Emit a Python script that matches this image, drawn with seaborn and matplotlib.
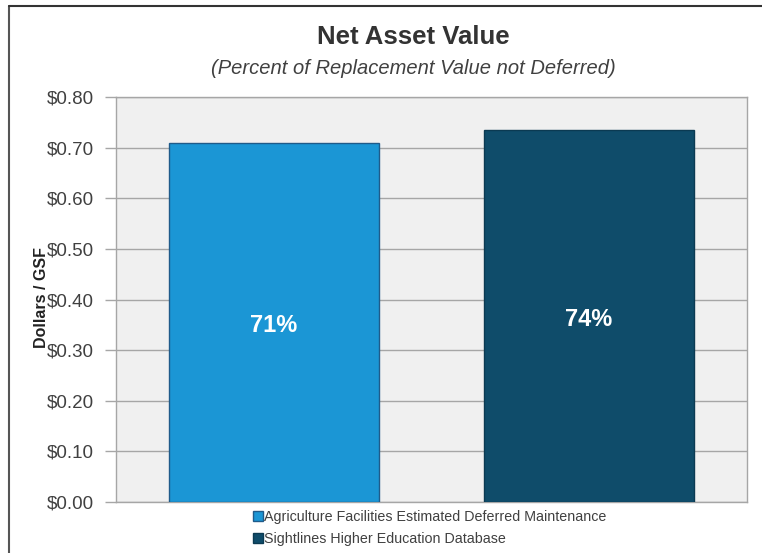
import matplotlib
matplotlib.use("Agg")
import matplotlib.pyplot as plt
import seaborn as sns
import pandas as pd
from matplotlib.lines import Line2D

# data
sources = ["Agriculture Facilities Estimated Deferred Maintenance",
           "Sightlines Higher Education Database"]
values = [0.71, 0.735]
pct_labels = ["71%", "74%"]
label_pos = [0.348, 0.36]
colors = ["#1B96D5", "#0F4C6A"]
edge_colors = ["#1F5B8A", "#0B3A52"]
yticks = [0.0, 0.1, 0.2, 0.3, 0.4, 0.5, 0.6, 0.7, 0.8]

df = pd.DataFrame({"source": sources, "value": values})

sns.set_theme(style="white")
plt.rcParams["font.family"] = ["Liberation Sans", "DejaVu Sans"]

fig = plt.figure(figsize=(7.62, 5.53), dpi=100)
ax = fig.add_axes([0.152, 0.0922, 0.828, 0.7324])
ax.set_facecolor("#F0F0F0")

sns.barplot(data=df, x="source", y="value", hue="source", palette=colors,
            saturation=1, width=0.666, legend=False, ax=ax, zorder=3)
for patch, ec in zip(ax.patches, edge_colors):
    patch.set_edgecolor(ec)
    patch.set_linewidth(1.0)

for i, (lab, y) in enumerate(zip(pct_labels, label_pos)):
    ax.text(i, y, lab, ha="center", va="center", color="white",
            fontsize=17, fontweight="bold", zorder=4)

ax.set_xlim(-0.5, 1.5)
ax.set_ylim(0, 0.8)
ax.set_yticks(yticks)
ax.set_yticklabels([f"${v:.2f}" for v in yticks], color="#404040", fontsize=13.5)
ax.set_xticks([])
ax.set_xlabel("")
ax.set_ylabel("")
ax.yaxis.grid(True, color="#A6A6A6", linewidth=1.0, zorder=0)
ax.set_axisbelow(True)
ax.tick_params(axis="y", left=True, length=8, width=1.0, color="#A6A6A6", pad=8)
for s in ax.spines.values():
    s.set_color("#A6A6A6")
    s.set_linewidth(1.0)

fig.text(42 / 762, 1 - 298 / 553, "Dollars / GSF", rotation=90, ha="center", va="center",
         fontsize=11.5, fontweight="bold", color="#222222")

fig.text(0.542, 0.933, "Net Asset Value", ha="center", va="center",
         fontsize=18.5, fontweight="bold", color="#333333")
fig.text(0.542, 0.877, "(Percent of Replacement Value not Deferred)",
         ha="center", va="center", fontsize=14.5, style="italic", color="#404040")

handles = [Line2D([], [], marker="s", linestyle="", markersize=6.5,
                  markerfacecolor=c, markeredgecolor=ec, markeredgewidth=1.0)
           for c, ec in zip(colors, edge_colors)]
leg = fig.legend(handles, sources, loc="upper left", bbox_to_anchor=(0.322, 0.088),
                 frameon=False, fontsize=10.3, handletextpad=0.0, labelspacing=0.55,
                 handlelength=0.9, borderaxespad=0)
for t in leg.get_texts():
    t.set_color("#404040")

# outer frame (left and top edges visible)
fig.add_artist(Line2D([9 / 762, 9 / 762], [0, 1 - 6 / 553], transform=fig.transFigure,
                      color="#555555", linewidth=1.5))
fig.add_artist(Line2D([9 / 762, 1], [1 - 6 / 553, 1 - 6 / 553], transform=fig.transFigure,
                      color="#333333", linewidth=1.5))

fig.savefig("out.png", dpi=100, facecolor="white")
